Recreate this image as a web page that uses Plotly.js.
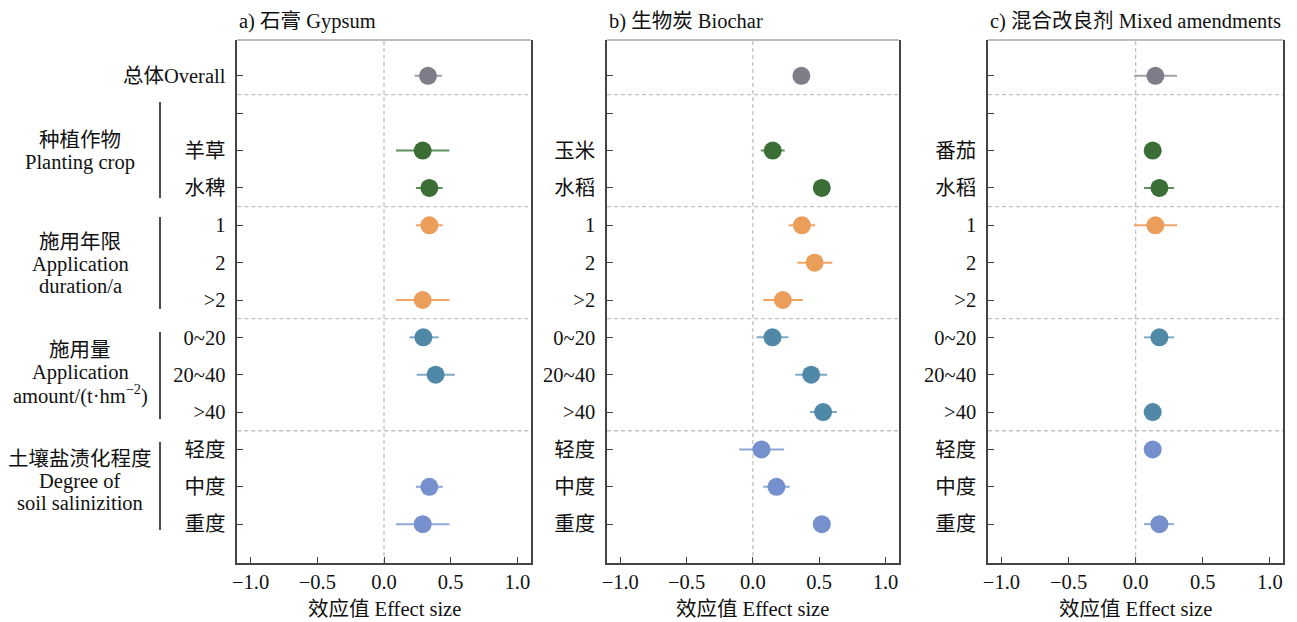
<!DOCTYPE html>
<html>
<head>
<meta charset="utf-8">
<script src="https://cdn.plot.ly/plotly-3.0.1.min.js"></script>
<style>html,body{margin:0;padding:0;background:#fff;}#chart{width:1297px;height:622px;}</style>
</head>
<body>
<div id="chart"></div>
<script>
// ---------- data ----------
const labelsA = ['总体Overall', '', '羊草', '水稗', '1', '2', '>2', '0~20', '20~40', '>40', '轻度', '中度', '重度'];
const labelsB = ['', '', '玉米', '水稻', '1', '2', '>2', '0~20', '20~40', '>40', '轻度', '中度', '重度'];
const labelsC = ['', '', '番茄', '水稻', '1', '2', '>2', '0~20', '20~40', '>40', '轻度', '中度', '重度'];
const rowGroup = ['overall', 'none', 'crop', 'crop', 'dur', 'dur', 'dur', 'amt', 'amt', 'amt', 'sal', 'sal', 'sal'];

const effA  = [0.33,  null, 0.29, 0.34, 0.34, null, 0.29, 0.295, 0.387, null, null, 0.34, 0.29];
const lowA  = [0.23,  null, 0.09, 0.24, 0.24, null, 0.09, 0.19,  0.245, null, null, 0.24, 0.09];
const highA = [0.435, null, 0.49, 0.44, 0.44, null, 0.49, 0.41,  0.53,  null, null, 0.44, 0.49];

const effB  = [0.366, null, 0.15, 0.52, 0.37, 0.466, 0.226, 0.148, 0.44, 0.53,  0.065,  0.178, 0.52];
const lowB  = [0.33,  null, 0.06, 0.49, 0.27, 0.336, 0.078, 0.028, 0.32, 0.43, -0.103,  0.078, 0.49];
const highB = [0.40,  null, 0.24, 0.55, 0.47, 0.60,  0.378, 0.268, 0.56, 0.634, 0.235, 0.278, 0.55];

const effC  = [0.147,  null, 0.127, 0.177, 0.147,  null, null, 0.177, null, 0.127, 0.127, null, 0.177];
const lowC  = [-0.012, null, 0.10,  0.062, -0.012, null, null, 0.062, null, 0.10,  0.10,  null, 0.062];
const highC = [0.308,  null, 0.155, 0.286, 0.308,  null, null, 0.286, null, 0.155, 0.155, null, 0.286];

const panelTitles = ['a) 石膏 Gypsum', 'b) 生物炭 Biochar', 'c) 混合改良剂 Mixed amendments'];
const xTitle = '效应值 Effect size';
const xTickVals = [-1.0, -0.5, 0.0, 0.5, 1.0];
const xTickText = ['−1.0', '−0.5', '0.0', '0.5', '1.0'];
const separators = [0.5, 3.5, 6.5, 9.5];

const groupLabels = [
  {lines: ['种植作物', 'Planting crop'], py: [140, 162], bar: [102, 198]},
  {lines: ['施用年限', 'Application', 'duration/a'], py: [242, 264, 286], bar: [217, 309]},
  {lines: ['施用量', 'Application', 'amount/(t·hm<sup>−2</sup>)'], py: [350, 372, 394], bar: [332, 419]},
  {lines: ['土壤盐渍化程度', 'Degree of', 'soil salinizition'], py: [459, 481, 503], bar: [442, 530]}
];

// ---------- styles ----------
const groupStyle = {
  overall: {marker: '#7f7d87', bar: '#a2a1a8'},
  crop:    {marker: '#3a6e36', bar: '#5f8f5c'},
  dur:     {marker: '#eb9d5a', bar: '#f0a466'},
  amt:     {marker: '#5088a8', bar: '#7fa9c3'},
  sal:     {marker: '#7590cc', bar: '#8ea6da'}
};
const FONT = '"Liberation Serif", "Times New Roman", "Noto Sans CJK SC", serif';
const FS = 20.5;
const W = 1297, H = 622;
const mt = 40, mb = 59;
const plotH = H - mt - mb;
const pyToPaper = py => (H - mb - py) / plotH;
const domainsPx = [[237.3, 530.7], [607, 898.7], [988, 1283.3]];

const panels = [
  {labels: labelsA, eff: effA, low: lowA, high: highA},
  {labels: labelsB, eff: effB, low: lowB, high: highB},
  {labels: labelsC, eff: effC, low: lowC, high: highC}
];

const traces = [];
const shapes = [];
const annotations = [];
const layout = {
  width: W, height: H,
  margin: {l: 0, r: 0, t: mt, b: mb},
  paper_bgcolor: '#fff', plot_bgcolor: '#fff',
  showlegend: false,
  font: {family: FONT, size: FS, color: '#111'}
};

const rowIdx = rowGroup.map((g, i) => i);

panels.forEach((p, k) => {
  const sfx = k === 0 ? '' : String(k + 1);
  const xa = 'x' + sfx, ya = 'y' + sfx;
  Object.keys(groupStyle).forEach(g => {
    const idx = rowIdx.filter(i => rowGroup[i] === g && p.eff[i] !== null);
    if (!idx.length) return;
    traces.push({
      type: 'scatter', mode: 'markers', xaxis: xa, yaxis: ya,
      x: idx.map(i => p.eff[i]),
      y: idx.map(i => i),
      marker: {size: 18, color: groupStyle[g].marker, line: {width: 0}},
      error_x: {
        type: 'data', symmetric: false,
        array: idx.map(i => p.high[i] - p.eff[i]),
        arrayminus: idx.map(i => p.eff[i] - p.low[i]),
        color: groupStyle[g].bar, thickness: 2, width: 0
      },
      hoverinfo: 'x+y'
    });
  });
  const dom = domainsPx[k].map(v => v / W);
  layout['xaxis' + sfx] = {
    domain: dom, anchor: ya, range: [-1.1, 1.1],
    tickvals: xTickVals, ticktext: xTickText,
    ticks: 'inside', ticklen: 6, tickwidth: 1.3, tickcolor: '#444',
    showgrid: false, zeroline: false,
    showline: true, linecolor: '#444', linewidth: 1.5, mirror: false,
    tickfont: {family: FONT, size: FS, color: '#111'},
    ticklabelstandoff: 0,
    fixedrange: true
  };
  layout['yaxis' + sfx] = {
    domain: [0, 1], anchor: xa, range: [13.04, -0.96],
    tickvals: rowIdx, ticktext: p.labels,
    ticks: 'inside', ticklen: 6, tickwidth: 1.3, tickcolor: '#444',
    showgrid: false, zeroline: false,
    showline: true, linecolor: '#444', linewidth: 1.5, mirror: true,
    tickfont: {family: FONT, size: FS, color: '#111'},
    ticklabelstandoff: 6,
    fixedrange: true
  };
  // top frame line (lighter)
  shapes.push({type: 'line', xref: xa + ' domain', yref: ya + ' domain', x0: 0, x1: 1, y0: 1, y1: 1,
    line: {color: '#a8a8a8', width: 1.5}, layer: 'above'});
  // vertical dashed line at 0
  shapes.push({type: 'line', xref: xa, yref: ya + ' domain', x0: 0, x1: 0, y0: 0, y1: 1,
    line: {color: '#c2c2c2', width: 1.3, dash: '4px,3px'}, layer: 'below'});
  separators.forEach(s => shapes.push({type: 'line', xref: xa + ' domain', yref: ya, x0: 0, x1: 1, y0: s, y1: s,
    line: {color: '#c2c2c2', width: 1.3, dash: '4px,3px'}, layer: 'below'}));
  // panel title
  annotations.push({text: panelTitles[k], xref: 'paper', yref: 'paper', x: dom[0], y: pyToPaper(21),
    xanchor: 'left', yanchor: 'middle', showarrow: false, font: {family: FONT, size: FS, color: '#111'}});
  // x axis title
  annotations.push({text: xTitle, xref: 'paper', yref: 'paper', x: (dom[0] + dom[1]) / 2, y: pyToPaper(609),
    xanchor: 'center', yanchor: 'middle', showarrow: false, font: {family: FONT, size: FS, color: '#111'}});
});

groupLabels.forEach(gl => {
  gl.lines.forEach((t, j) => annotations.push({
    text: t, xref: 'paper', yref: 'paper', x: 80 / W, y: pyToPaper(gl.py[j]),
    xanchor: 'center', yanchor: 'middle', showarrow: false,
    font: {family: FONT, size: FS, color: '#111'}
  }));
  shapes.push({type: 'line', xref: 'paper', yref: 'paper', x0: 160 / W, x1: 160 / W,
    y0: pyToPaper(gl.bar[0]), y1: pyToPaper(gl.bar[1]), line: {color: '#111', width: 1.5}});
});

layout.shapes = shapes;
layout.annotations = annotations;

Plotly.newPlot('chart', traces, layout, {displayModeBar: false, staticPlot: false});
</script>
</body>
</html>
